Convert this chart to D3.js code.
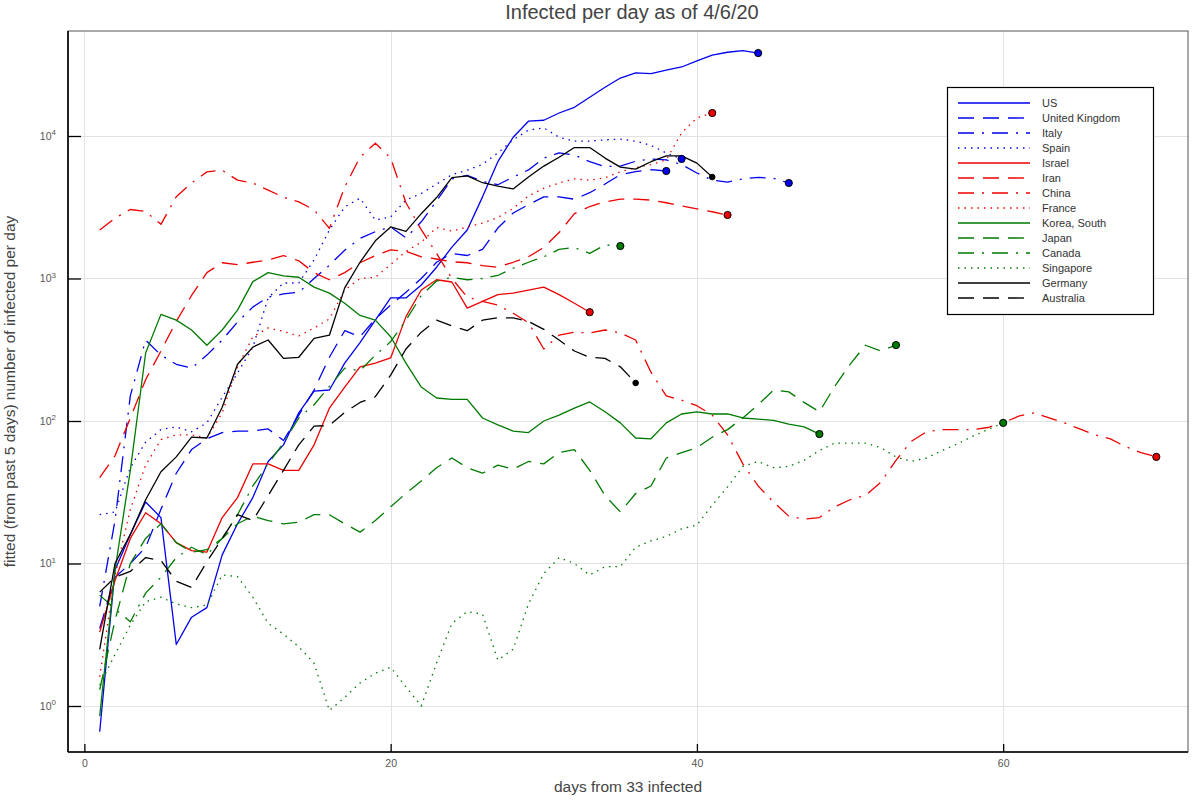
<!DOCTYPE html>
<html>
<head>
<meta charset="utf-8">
<script src="https://cdn.jsdelivr.net/npm/d3@7"></script>
<style>
  body { margin: 0; background: #fff; }
  svg { display: block; font-family: "Liberation Sans", Arial, Helvetica, sans-serif; }
</style>
</head>
<body>
<svg id="chart" width="1200" height="800"></svg>
<script>
// ---------------- data ----------------
const chartTitle = "Infected per day as of 4/6/20";
const xLabel = "days from 33 infected";
const yLabel = "fitted (from past 5 days) number of infected per day";
const xTickValues = [0, 20, 40, 60];
const yTickExponents = [0, 1, 2, 3, 4];
const firstDay = 1;

const countries = ["US", "United Kingdom", "Italy", "Spain", "Israel", "Iran", "China", "France",
  "Korea, South", "Japan", "Canada", "Singapore", "Germany", "Australia"];

const usValues = [0.66, 9, 16, 27, 21, 2.7, 4.2, 4.9, 11.5, 19, 29, 52, 68, 114, 162, 165, 255, 355, 510, 730,
  730, 900, 1200, 1660, 2190, 3740, 6600, 9800, 12700, 12900, 14500, 15900, 18700, 22000, 25500, 27700, 27400,
  29000, 30500, 33700, 37000, 38700, 39700, 38200];
const ukValues = [3.5, 8, 10, 13, 24, 43, 63, 75, 83, 85, 85, 88, 73, 110, 165, 280, 430, 390, 520, 650, 800,
  1000, 1300, 1500, 1450, 1600, 2260, 2880, 3300, 3740, 3740, 3600, 4000, 4600, 5350, 5630, 5800, 5680];
const italyValues = [5, 20, 150, 370, 290, 250, 235, 290, 370, 495, 630, 740, 780, 800, 1000, 1240, 1580, 1910,
  2130, 2300, 1930, 2500, 3500, 5000, 5300, 4800, 4550, 5150, 5780, 7000, 7600, 7350, 6600, 6100, 6150, 6650,
  6900, 6800, 6300, 5500, 4900, 4750, 5000, 5130, 5050, 4680];
const spainValues = [22, 23, 47, 71, 87, 91, 84, 97, 147, 217, 330, 730, 930, 930, 1350, 2190, 3180, 3660, 2570,
  2700, 3560, 3950, 4600, 5350, 5750, 6330, 7600, 9400, 11000, 11400, 9800, 9200, 9200, 9400, 9500, 9200, 8600,
  7600, 6900];
const israelValues = [3.3, 7.6, 15, 22.7, 19, 14, 12.3, 12, 21, 29, 50, 50, 45, 45, 68, 123, 173, 240, 255, 277,
  540, 830, 980, 945, 620, 690, 770, 790, 830, 870, 770, 670, 580];
const iranValues = [40, 57, 105, 195, 310, 500, 760, 1100, 1290, 1250, 1300, 1350, 1450, 1330, 1100, 980, 1100,
  1290, 1450, 1590, 1550, 1420, 1370, 1310, 1290, 1230, 1200, 1300, 1420, 1650, 2100, 2850, 3200, 3450, 3600,
  3600, 3550, 3400, 3230, 3080, 2940, 2790];
const chinaValues = [2190, 2650, 3050, 2950, 2400, 3750, 4680, 5600, 5750, 4900, 4680, 4170, 3720, 3450, 3030,
  2250, 4380, 7100, 8900, 7000, 3400, 2200, 1500, 1000, 740, 690, 650, 570, 490, 320, 400, 420, 415, 435, 415,
  370, 220, 150, 140, 128, 110, 80, 50, 35, 27, 21.5, 20.5, 21, 25, 28, 30, 37, 53, 72, 84, 87, 87, 87, 90, 97,
  108, 114, 105, 97, 88, 80, 75, 66, 60, 56];
const franceValues = [1.6, 8.3, 24, 49, 74, 80, 80, 76, 114, 240, 390, 450, 425, 395, 450, 520, 830, 1000, 1020,
  1250, 1550, 1800, 2280, 2150, 2300, 2450, 2680, 3100, 3800, 4300, 4680, 5000, 4900, 5100, 5600, 6000, 6300,
  6800, 10500, 13400, 14500];
const koreaValues = [0.85, 9, 45, 300, 560, 510, 435, 340, 435, 600, 950, 1100, 1045, 1020, 870, 790, 670, 550,
  510, 390, 255, 173, 145, 142, 142, 105, 94, 85, 83, 100, 110, 123, 136, 116, 97, 76, 75, 97, 112, 116, 112, 112,
  105, 103, 101, 95, 91, 81];
const japanValues = [1.3, 4.0, 10, 15, 19, 14, 12, 12.5, 15, 19, 21.5, 20, 19, 19.5, 22, 22, 19, 16.6, 20, 25, 31,
  38, 47, 55, 47, 43, 49, 46, 52, 50, 60, 63, 45, 30, 23, 31, 35, 55, 60, 65, 77, 87, 105, 130, 165, 160, 135,
  116, 175, 250, 340, 310, 341];
const canadaValues = [6, 4.8, 3.9, 6.2, 8, 11, 13, 11.5, 15, 22, 35, 50, 70, 105, 130, 175, 235, 225, 290, 360,
  510, 760, 960, 1020, 980, 1000, 1050, 1180, 1300, 1420, 1600, 1650, 1500, 1720, 1690];
const singaporeValues = [1.4, 2.3, 3.7, 5.4, 5.8, 5.2, 4.9, 5.1, 8.3, 8.1, 5.8, 3.8, 3.2, 2.6, 2.0, 0.93, 1.15,
  1.45, 1.7, 1.87, 1.36, 1.0, 2.0, 3.8, 4.6, 4.4, 2.1, 2.5, 5.2, 8.5, 11, 10, 8.3, 9.5, 9.5, 13, 14.4, 15.5, 17.5,
  18.6, 25.7, 34.5, 48, 52, 47, 48, 53, 62, 70, 70, 70, 65, 56, 52, 55, 62, 69, 78, 87, 97];
const germanyValues = [2.5, 10, 16, 28, 44, 56, 77, 76, 125, 250, 330, 370, 275, 280, 380, 400, 860, 1300, 1840,
  2300, 2140, 2850, 3700, 5100, 5250, 4700, 4450, 4250, 5150, 6150, 7100, 8300, 8300, 7000, 6050, 5850, 6600,
  7250, 7250, 6450, 5150];
const australiaValues = [6.3, 8, 8.8, 11, 10.5, 7.5, 6.8, 10.3, 15, 22, 20, 30, 45, 68, 92, 93, 115, 135, 148,
  210, 320, 420, 510, 465, 430, 510, 530, 530, 500, 440, 370, 310, 280, 275, 240, 185];

// ---------------- styles ----------------
const seriesColors = ["#0000ee", "#0000ee", "#0000ee", "#0000ee", "#ee0000", "#ee0000", "#ee0000", "#ee0000",
  "#007a00", "#007a00", "#007a00", "#007a00", "#000000", "#000000"];
const dashStyles = { solid: null, dash: "16,9", dashdot: "16,8,2,8", dot: "1.5,5" };
const seriesDash = ["solid", "dash", "dashdot", "dot", "solid", "dash", "dashdot", "dot",
  "solid", "dash", "dashdot", "dot", "solid", "dash"];

const allValues = [usValues, ukValues, italyValues, spainValues, israelValues, iranValues, chinaValues,
  franceValues, koreaValues, japanValues, canadaValues, singaporeValues, germanyValues, australiaValues];

const series = countries.map((name, i) => ({
  name, values: allValues[i], color: seriesColors[i], dash: dashStyles[seriesDash[i]]
}));

// ---------------- layout ----------------
const svg = d3.select("#chart");
const plot = { left: 68, right: 1188, top: 31, bottom: 752 };

const x = d3.scaleLinear().domain([-1.07, 72.07]).range([plot.left, plot.right]);
const y = d3.scaleLog().domain([Math.pow(10, -0.3228), Math.pow(10, 4.7368)]).range([plot.bottom, plot.top]);

svg.append("rect").attr("width", 1200).attr("height", 800).attr("fill", "#fff");

// grid
const grid = svg.append("g").attr("stroke", "#e2e2e2").attr("stroke-width", 1);
grid.selectAll("line.gx").data(xTickValues).join("line").attr("class", "gx")
  .attr("x1", d => Math.round(x(d)) + 0.5).attr("x2", d => Math.round(x(d)) + 0.5)
  .attr("y1", plot.top).attr("y2", plot.bottom);
grid.selectAll("line.gy").data(yTickExponents).join("line").attr("class", "gy")
  .attr("x1", plot.left).attr("x2", plot.right)
  .attr("y1", d => Math.round(y(Math.pow(10, d))) + 0.5).attr("y2", d => Math.round(y(Math.pow(10, d))) + 0.5);

// frame
svg.append("rect").attr("x", plot.left).attr("y", plot.top)
  .attr("width", plot.right - plot.left).attr("height", plot.bottom - plot.top)
  .attr("fill", "none").attr("stroke", "#555").attr("stroke-width", 1);

// axes
const xAxis = svg.append("g").attr("transform", `translate(0,${plot.bottom})`)
  .call(d3.axisBottom(x).tickValues(xTickValues).tickSizeInner(-8).tickSizeOuter(0).tickPadding(8));
xAxis.select(".domain").remove();
xAxis.selectAll(".tick line").attr("stroke", "#000").attr("stroke-width", 1.3);
xAxis.selectAll(".tick text").attr("font-size", 10.5).attr("fill", "#555")
  .attr("font-family", "'Liberation Sans', Arial, sans-serif");

const yAxis = svg.append("g").attr("transform", `translate(${plot.left},0)`)
  .call(d3.axisLeft(y).tickValues(yTickExponents.map(e => Math.pow(10, e)))
    .tickSizeInner(-13).tickSizeOuter(0).tickPadding(12).tickFormat(() => ""));
yAxis.select(".domain").remove();
yAxis.selectAll(".tick line").attr("stroke", "#000").attr("stroke-width", 1.3);
yAxis.selectAll(".tick text").each(function(d) {
  const t = d3.select(this).attr("font-size", 10.5).attr("fill", "#555")
    .attr("font-family", "'Liberation Sans', Arial, sans-serif");
  t.text("10");
  t.append("tspan").attr("dy", "-0.6em").attr("font-size", 8).text(Math.round(Math.log10(d)));
});

// spines
svg.append("line").attr("x1", plot.left).attr("x2", plot.left).attr("y1", plot.top).attr("y2", plot.bottom)
  .attr("stroke", "#000").attr("stroke-width", 1.6);
svg.append("line").attr("x1", plot.left).attr("x2", plot.right).attr("y1", plot.bottom).attr("y2", plot.bottom)
  .attr("stroke", "#000").attr("stroke-width", 1.6);

// clip
svg.append("clipPath").attr("id", "clip").append("rect")
  .attr("x", plot.left).attr("y", plot.top)
  .attr("width", plot.right - plot.left).attr("height", plot.bottom - plot.top);

const line = d3.line().x((d, i) => x(firstDay + i)).y(d => y(d));

const linesG = svg.append("g").attr("clip-path", "url(#clip)");
linesG.selectAll("path").data(series).join("path")
  .attr("d", s => line(s.values))
  .attr("fill", "none")
  .attr("stroke", s => s.color)
  .attr("stroke-width", 1.3)
  .attr("stroke-linejoin", "round")
  .attr("stroke-dasharray", s => s.dash);

// end markers
svg.append("g").selectAll("circle").data(series).join("circle")
  .attr("cx", s => x(firstDay + s.values.length - 1))
  .attr("cy", s => y(s.values[s.values.length - 1]))
  .attr("r", s => s.color === "#000000" ? 2.8 : 3.6)
  .attr("fill", s => s.color)
  .attr("stroke", "#000").attr("stroke-width", 1);

// title and labels
svg.append("text").attr("x", (plot.left + plot.right) / 2 + 4).attr("y", 19)
  .attr("text-anchor", "middle").attr("font-size", 20).attr("fill", "#444").text(chartTitle);
svg.append("text").attr("x", (plot.left + plot.right) / 2).attr("y", 792)
  .attr("text-anchor", "middle").attr("font-size", 15.5).attr("fill", "#444").text(xLabel);
svg.append("text").attr("transform", `translate(15,${(plot.top + plot.bottom) / 2}) rotate(-90)`)
  .attr("text-anchor", "middle").attr("font-size", 15.5).attr("fill", "#444").text(yLabel);

// legend
const legend = svg.append("g");
legend.append("rect").attr("x", 947.5).attr("y", 87.5).attr("width", 206).attr("height", 227)
  .attr("fill", "#fff").attr("stroke", "#000").attr("stroke-width", 1.2);
const rows = legend.selectAll("g.row").data(series).join("g").attr("class", "row")
  .attr("transform", (s, i) => `translate(0,${103 + i * 15})`);
rows.append("line").attr("x1", 958).attr("x2", 1030).attr("y1", 0).attr("y2", 0)
  .attr("stroke", s => s.color).attr("stroke-width", 1.4).attr("stroke-dasharray", s => s.dash);
rows.append("text").attr("x", 1042).attr("y", 0).attr("dy", "0.35em")
  .attr("font-size", 11).attr("fill", "#333").text(s => s.name);
</script>
</body>
</html>
